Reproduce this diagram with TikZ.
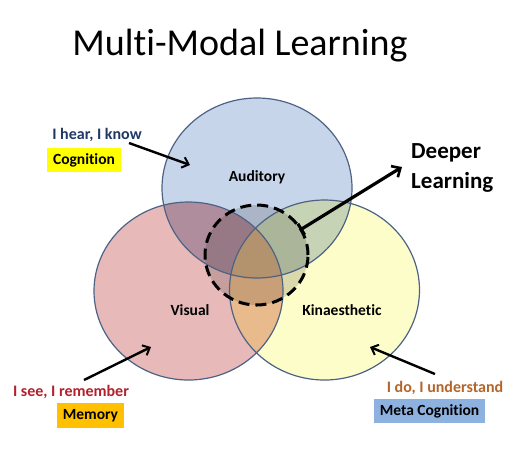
\documentclass[tikz,border=0pt]{standalone}
\usepackage{fontspec}
\setmainfont{Carlito}[Ligatures=NoCommon]
\usetikzlibrary{arrows.meta}
\definecolor{cA}{HTML}{C6D5EA}
\definecolor{cV}{HTML}{E8B9B9}
\definecolor{cK}{HTML}{FDFDC9}
\definecolor{cAV}{HTML}{B08D9C}
\definecolor{cAK}{HTML}{C6D3B4}
\definecolor{cVK}{HTML}{E9BA8B}
\definecolor{cAVK}{HTML}{D0AC80}
\definecolor{edge}{HTML}{4D6385}
\definecolor{navy}{HTML}{1F3864}
\definecolor{dred}{HTML}{B3202C}
\definecolor{brn}{HTML}{B5652A}
\definecolor{ylw}{HTML}{FFFF00}
\definecolor{org}{HTML}{FFC000}
\definecolor{lblue}{HTML}{8EB2E0}
\tikzset{
  lbl/.style={font=\fontsize{16}{18}\selectfont\bfseries, inner sep=0pt},
  tag/.style={font=\fontsize{15.5}{17}\selectfont\bfseries, inner sep=0pt, text=black},
  circlbl/.style={font=\fontsize{15.5}{17}\selectfont\bfseries, inner sep=0pt},
  ptr/.style={line width=2.4pt, -{Straight Barb[length=6pt,width=11pt,line width=2pt]}},
  ring/.style={draw=edge, line width=1.2pt}
}
\begin{document}
\begin{tikzpicture}[x=1pt,y=-1pt]
\useasboundingbox (0,0) rectangle (526,451);
\fill[white] (0,0) rectangle (526,451);
\coordinate (A) at (257,188);
\coordinate (V) at (188.5,291);
\coordinate (K) at (324.5,290);
\coordinate (D) at (256.5,255);
\def\eA{(A) ellipse [x radius=95pt, y radius=90pt]}
\def\eV{(V) ellipse [x radius=94.5pt, y radius=89pt]}
\def\eK{(K) ellipse [x radius=95pt, y radius=90pt]}
% base fills
\fill[cA] \eA;
\fill[cV] \eV;
\fill[cK] \eK;
\begin{scope}\clip \eA; \fill[cAV] \eV; \fill[cAK] \eK; \end{scope}
\begin{scope}\clip \eV; \fill[cVK] \eK; \end{scope}
\begin{scope}\clip \eA; \clip \eV; \fill[cAVK] \eK; \end{scope}
% dashed highlight
\fill[black, fill opacity=0.14] (D) ellipse [x radius=51.5pt, y radius=50pt];
% outlines
\draw[ring] \eA;
\draw[ring] \eV;
\draw[ring] \eK;
\draw[line width=3pt, dash pattern=on 11pt off 6pt] (D) ellipse [x radius=51.5pt, y radius=50pt];
% title
\node[font=\fontsize{38}{44}\selectfont, inner sep=0pt] (title) at (240,46) {Multi-Modal Learning};
% circle labels
\node[circlbl] (aud) at (257,177) {Auditory};
\node[circlbl] (vis) at (190,310) {Visual};
\node[circlbl] (kin) at (342,310) {Kinaesthetic};
% left top
\node[lbl, text=navy] (hear) at (97,135) {I hear, I know};
\node[tag, fill=ylw, minimum width=74pt, minimum height=24pt] (cog) at (84,160) {Cognition};
\coordinate (hearTip) at (190,165);
\coordinate (hearTail) at (129,143);
\draw[ptr] (hearTail) -- (hearTip);
% bottom left
\node[lbl, text=dred] (see) at (71,392) {I see, I remember};
\node[tag, fill=org, minimum width=67pt, minimum height=25pt] (mem) at (90.5,415.5) {Memory};
\coordinate (seeTail) at (84,380);
\coordinate (seeTip) at (151,347);
\draw[ptr] (seeTail) -- (seeTip);
% bottom right
\node[lbl, text=brn] (do) at (445,388) {I do, I understand};
\node[tag, fill=lblue, minimum width=111pt, minimum height=24pt] (meta) at (429.5,411) {Meta Cognition};
\coordinate (doTail) at (435,374);
\coordinate (doTip) at (370,347);
\draw[ptr] (doTail) -- (doTip);
% deeper learning
\node[font=\fontsize{23}{30}\selectfont\bfseries, align=left, inner sep=0pt, anchor=west] (deep) at (411,168) {Deeper\\Learning};
\coordinate (dlTail) at (300,230);
\coordinate (dlTip) at (402,167);
\draw[line width=3.2pt, {Bar[width=13pt,line width=3pt]}-{Straight Barb[length=7pt,width=13pt,line width=2.6pt]}] (dlTail) -- (dlTip);
\end{tikzpicture}
\end{document}
